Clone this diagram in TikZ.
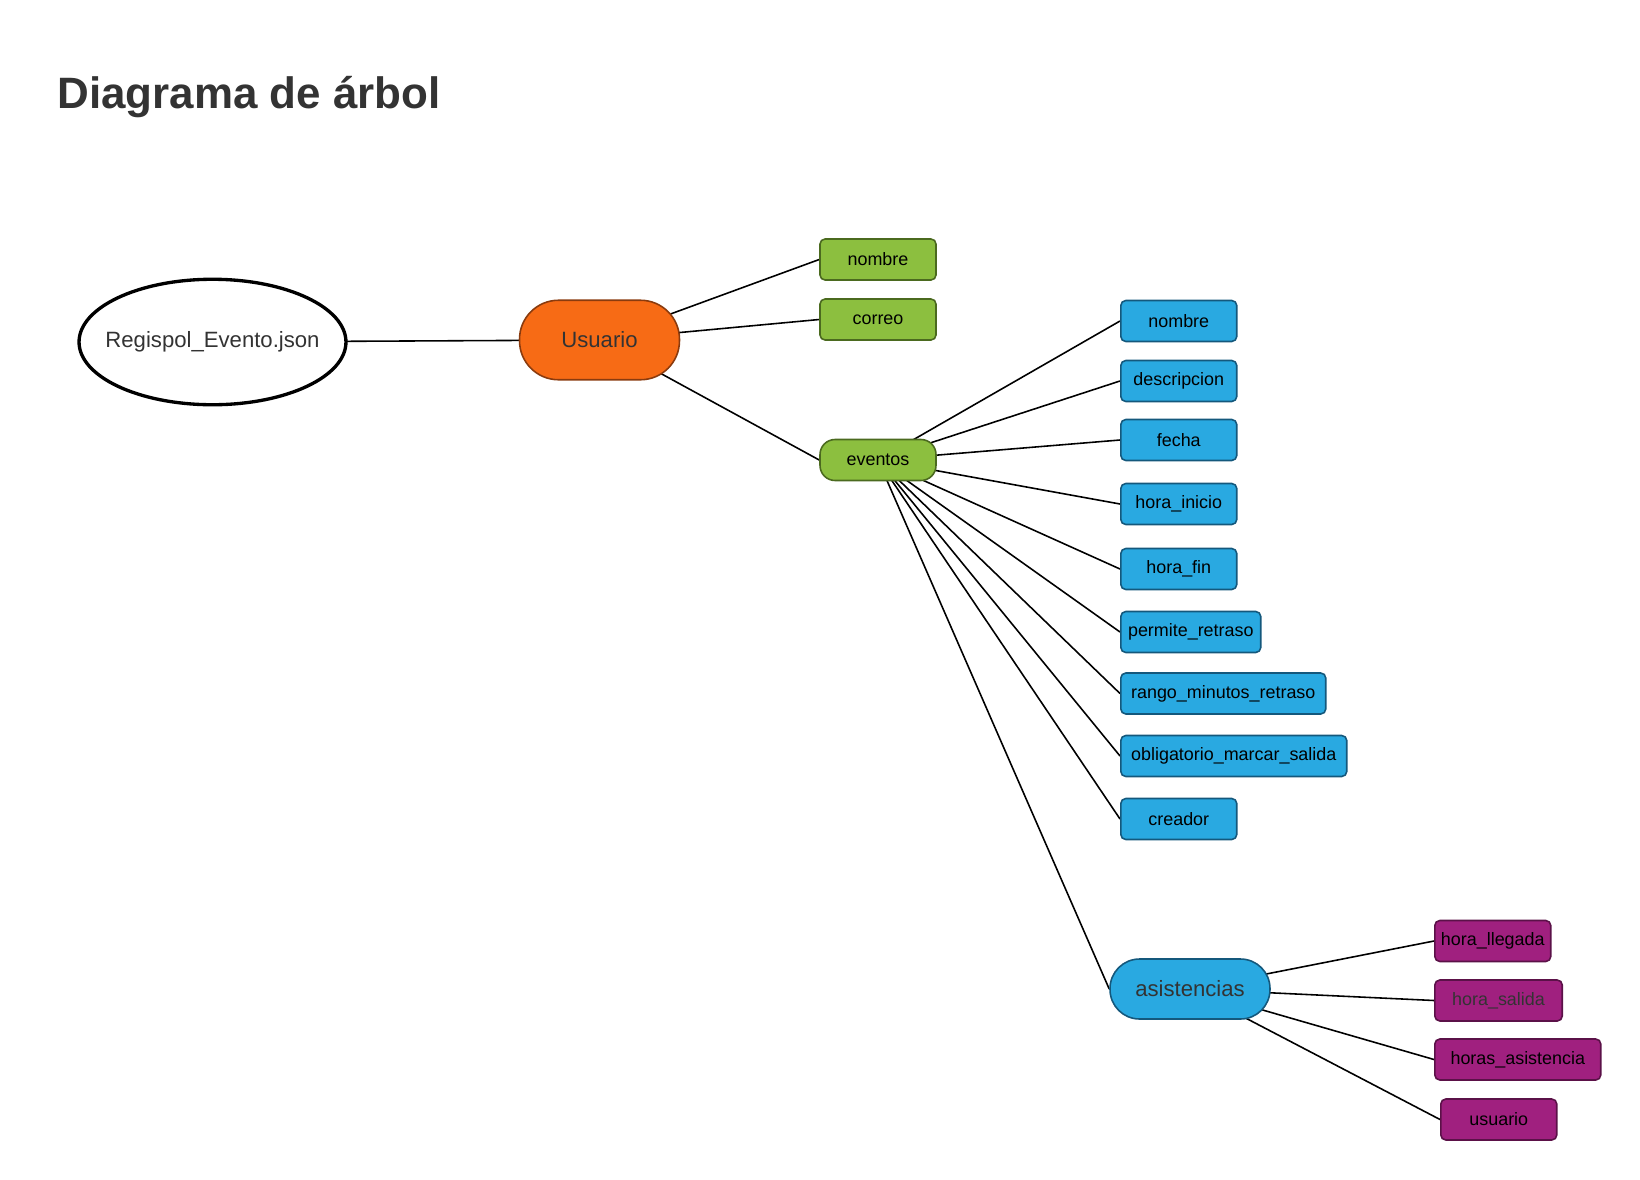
\documentclass[tikz,border=0pt]{standalone}
\usepackage{fontspec}
\setmainfont{Liberation Sans}
\usetikzlibrary{positioning,backgrounds,shapes.geometric}

\definecolor{verdehoja}{HTML}{8CBF3F}
\definecolor{verdeborde}{HTML}{4B6A1F}
\definecolor{azulhoja}{HTML}{29A9E1}
\definecolor{azulborde}{HTML}{14587C}
\definecolor{naranja}{HTML}{F76B15}
\definecolor{naranjaborde}{HTML}{8A3B0E}
\definecolor{morado}{HTML}{A0207F}
\definecolor{moradoborde}{HTML}{5B1148}
\definecolor{textogris}{HTML}{333333}

\begin{document}
\begin{tikzpicture}[
  x=0.02cm,y=-0.02cm,
  titulo/.style={font=\fontsize{25}{30}\selectfont\bfseries,text=textogris,inner sep=0pt,anchor=base west},
  raiz/.style={ellipse,draw=black,line width=1.9pt,fill=white,inner xsep=-0.26cm,inner ysep=0pt,minimum width=5.34cm,minimum height=2.51cm,font=\fontsize{12.6}{15}\selectfont,text=textogris},
  grupo/.style={rectangle,line width=0.9pt,minimum width=3.2cm,font=\fontsize{12.6}{15}\selectfont,text=textogris},
  campo/.style={rectangle,rounded corners=0.1cm,line width=0.9pt,minimum width=2.32cm,minimum height=0.82cm,inner xsep=0.12cm,font=\fontsize{10.2}{12}\selectfont},
  verde/.style={campo,draw=verdeborde,fill=verdehoja},
  azul/.style={campo,draw=azulborde,fill=azulhoja,anchor=west},
  lila/.style={campo,draw=moradoborde,fill=morado,anchor=west},
  rama/.style={line width=0.9pt,black}
]
\useasboundingbox (0,0) rectangle (1640,1180);

\node[titulo] (titulo) at (57,108) {Diagrama de árbol};

% raiz y primer nivel
\node[raiz] (archivo) at (212.5,342) {Regispol\_Evento.json};
\node[grupo,draw=naranjaborde,fill=naranja,rounded corners=0.78cm,minimum height=1.59cm] (usuario) at (599.5,340) {Usuario};

% campos del usuario
\node[verde] (unombre) at (878,259.5) {nombre};
\node[verde] (ucorreo) at (878,319.5) {correo};
\node[verde,rounded corners=0.3cm] (eventos) at (878,460) {eventos};

% campos de cada evento
\foreach \nom/\y/\w/\txt in {enombre/321/2.32/nombre,edesc/381/2.32/descripcion,efecha/440/2.32/fecha,
    einicio/504/2.32/hora\_inicio,efin/569/2.32/hora\_fin,epermite/632/2.80/permite\_retraso,
    erango/693.5/4.10/rango\_minutos\_retraso,eoblig/756/4.52/obligatorio\_marcar\_salida,ecreador/819/2.32/creador}
  \node[azul,minimum width=\w cm] (\nom) at (1120,\y) {\txt};

\node[grupo,draw=azulborde,fill=azulhoja,rounded corners=0.59cm,minimum height=1.2cm] (asistencias) at (1190,989) {asistencias};

% campos de cada asistencia
\node[lila,minimum width=2.32cm] (allegada) at (1434,941) {hora\_llegada};
\node[lila,minimum width=2.55cm,text=textogris] (asalida) at (1434,1000.5) {hora\_salida};
\node[lila,minimum width=3.32cm] (ahoras) at (1434,1059.5) {horas\_asistencia};
\node[lila,minimum width=2.32cm] (ausuario) at (1440,1119.5) {usuario};

% ramas, por debajo de los nodos
\begin{scope}[on background layer]
  \draw[rama] (archivo.center) -- (usuario.center);
  \draw[rama] (usuario.center) -- (unombre.west);
  \draw[rama] (usuario.center) -- (ucorreo.west);
  \draw[rama] (usuario.center) -- (eventos.west);
  \foreach \nom in {enombre,edesc,efecha,einicio,efin,epermite,erango,eoblig,ecreador}
    \draw[rama] (eventos.center) -- (\nom.west);
  \draw[rama] (eventos.center) -- (asistencias.west);
  \foreach \nom in {allegada,asalida,ahoras,ausuario}
    \draw[rama] (asistencias.center) -- (\nom.west);
\end{scope}
\end{tikzpicture}
\end{document}
